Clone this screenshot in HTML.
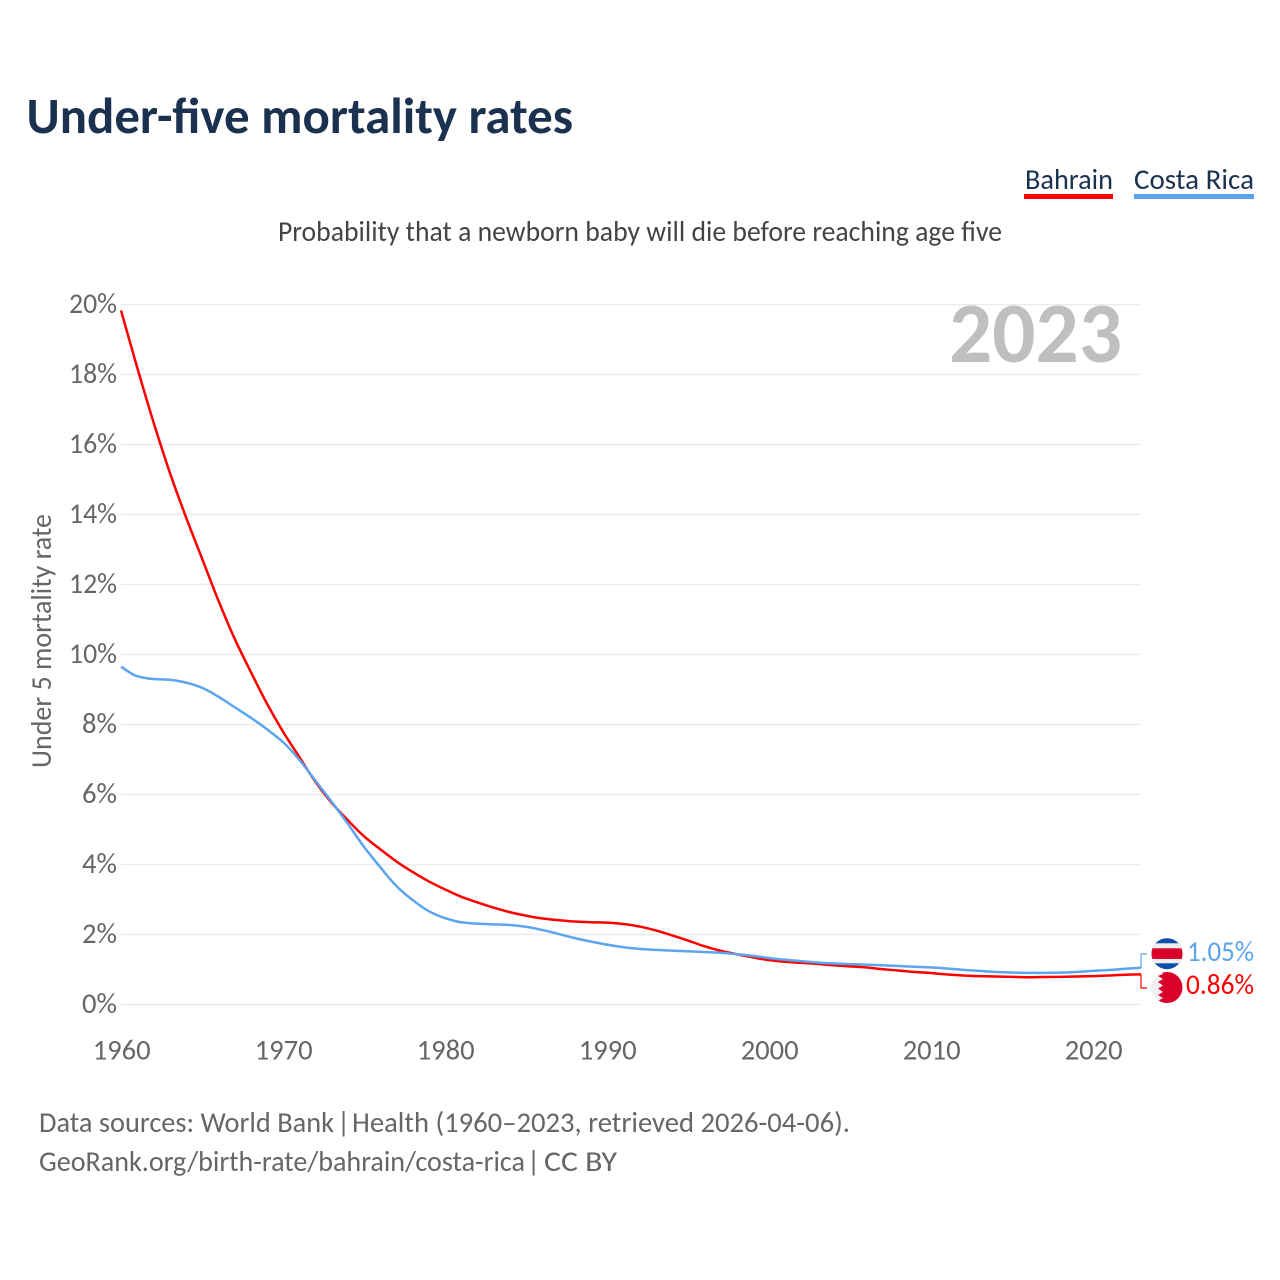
<!DOCTYPE html>
<html lang="en">
<head>
<meta charset="utf-8">
<title>Under-five mortality rates</title>
<style>
html,body{margin:0;padding:0;background:#fff;}
svg{display:block;}
text{font-family:"Carlito","Lato","Liberation Sans",sans-serif;}
</style>
</head>
<body>
<svg id="chart" width="1280" height="1280" viewBox="0 0 1280 1280" xmlns="http://www.w3.org/2000/svg">
  <rect x="0" y="0" width="1280" height="1280" fill="#fff"/>
  <text x="26.5" y="133" font-size="51" font-weight="700" fill="#1a3150" textLength="546.5" lengthAdjust="spacingAndGlyphs">Under-five mortality rates</text>
  <g>
    <text x="1025" y="189" font-size="28.6" fill="#1a3150" textLength="88" lengthAdjust="spacingAndGlyphs">Bahrain</text>
    <rect x="1024" y="194" width="89" height="5" fill="#ff0000"/>
  </g>
  <g>
    <text x="1134" y="189" font-size="28.6" fill="#1a3150" textLength="120" lengthAdjust="spacingAndGlyphs">Costa Rica</text>
    <rect x="1134" y="194" width="120" height="5" fill="#5ba4ee"/>
  </g>
  <text x="278" y="241" font-size="28.6" fill="#444" textLength="724" lengthAdjust="spacingAndGlyphs">Probability that a newborn baby will die before reaching age five</text>
  <text transform="translate(51,641) rotate(-90)" text-anchor="middle" font-size="28.6" fill="#666" textLength="254" lengthAdjust="spacingAndGlyphs">Under 5 mortality rate</text>
  <g id="grid"></g>
  <g id="yticks"></g>
  <g id="xticks"></g>
  <text id="year-label" x="949" y="362" font-size="86" font-weight="700" fill="#bfbfbf" textLength="173" lengthAdjust="spacingAndGlyphs">2023</text>
  <g id="series"></g>
  <defs>
    <clipPath id="clip-cr"><circle cx="1167" cy="953.7" r="15.5"/></clipPath>
    <clipPath id="clip-bh"><circle cx="1167" cy="987.5" r="15.5"/></clipPath>
  </defs>
  <g clip-path="url(#clip-cr)">
    <rect x="1150" y="938" width="34" height="32" fill="#0b4fa8"/>
    <rect x="1150" y="943.3" width="34" height="20" fill="#f0f0f0"/>
    <rect x="1150" y="948.3" width="34" height="10.7" fill="#d9002a"/>
  </g>
  <g clip-path="url(#clip-bh)">
    <rect x="1150" y="971" width="34" height="33" fill="#f0f0f0"/>
    <polygon fill="#d9002a" points="1161,971 1185,971 1185,1004 1161,1004 1157,1001.5 1163,998 1158,995 1163,992 1158,988.5 1163,985.5 1158,982 1163,979 1158,976 1163,974"/>
  </g>
  <text id="end-label-cr" x="1187" y="961" font-size="28.6" fill="#5ba4ee" textLength="67" lengthAdjust="spacingAndGlyphs"></text>
  <text id="end-label-bh" x="1186" y="994" font-size="28.6" fill="#ff0000" textLength="68" lengthAdjust="spacingAndGlyphs"></text>
  <g font-size="28.6" fill="#666">
    <text x="39" y="1132" textLength="295" lengthAdjust="spacingAndGlyphs">Data sources: World Bank</text>
    <text x="337" y="1132">|</text>
    <text x="352" y="1132" textLength="498" lengthAdjust="spacingAndGlyphs">Health (1960–2023, retrieved 2026-04-06).</text>
  </g>
  <g font-size="28.6" fill="#666">
    <text x="39" y="1171" textLength="486" lengthAdjust="spacingAndGlyphs">GeoRank.org/birth-rate/bahrain/costa-rica</text>
    <text x="527" y="1171">|</text>
    <text x="544" y="1171" textLength="73" lengthAdjust="spacingAndGlyphs">CC BY</text>
  </g>
</svg>
<script>
const startYear = 1960;
const endYear = 2023;
const yTickValues = [0, 2, 4, 6, 8, 10, 12, 14, 16, 18, 20];
const xTickValues = [1960, 1970, 1980, 1990, 2000, 2010, 2020];
const bahrainValues = [
  19.83, 18.2, 16.65, 15.22, 13.94, 12.75, 11.56, 10.47, 9.52, 8.61,
  7.8, 7.08, 6.37, 5.77, 5.27, 4.81, 4.44, 4.09, 3.79, 3.52,
  3.29, 3.08, 2.92, 2.77, 2.64, 2.54, 2.46, 2.41, 2.37, 2.35,
  2.34, 2.3, 2.23, 2.12, 1.98, 1.83, 1.67, 1.54, 1.44, 1.35,
  1.27, 1.22, 1.19, 1.16, 1.12, 1.09, 1.06, 1.01, 0.97, 0.93,
  0.9, 0.86, 0.83, 0.81, 0.8, 0.79, 0.78, 0.785, 0.79, 0.8,
  0.81, 0.83, 0.85, 0.86
];
const costaRicaValues = [
  9.65, 9.38, 9.3, 9.28, 9.2, 9.05, 8.8, 8.5, 8.2, 7.87,
  7.5, 7.0, 6.4, 5.8, 5.17, 4.51, 3.93, 3.39, 2.99, 2.67,
  2.47, 2.35, 2.31, 2.29, 2.27, 2.22, 2.13, 2.02, 1.9, 1.8,
  1.71, 1.64, 1.59, 1.56, 1.54, 1.52, 1.5, 1.48, 1.44, 1.39,
  1.33, 1.28, 1.24, 1.2, 1.17, 1.155, 1.14, 1.12, 1.1, 1.08,
  1.06, 1.03, 0.99, 0.96, 0.93, 0.915, 0.905, 0.905, 0.91, 0.93,
  0.96, 0.985, 1.02, 1.05
];

const NS = 'http://www.w3.org/2000/svg';
function xScale(year) { return 121 + (year - startYear) * (1141 - 121) / (endYear - startYear); }
function xLabelPos(year) { return 121.7 + (year - startYear) * 16.2; }
function yScale(v) { return 1004.5 - v * 35; }
function make(tag, attrs, parent) {
  const el = document.createElementNS(NS, tag);
  for (const k in attrs) el.setAttribute(k, attrs[k]);
  parent.appendChild(el);
  return el;
}

const grid = document.getElementById('grid');
const yticks = document.getElementById('yticks');
yTickValues.forEach(function (v) {
  const line = make('line', { x1: 121, x2: 1141, y1: yScale(v), y2: yScale(v), stroke: '#ececec', 'stroke-width': 1.5 }, grid);
  
  
  const label = make('text', { x: 117, y: yScale(v) + 8.5, 'text-anchor': 'end', 'font-size': 28.6, fill: '#666', textLength: v >= 10 ? 48 : 35, lengthAdjust: 'spacingAndGlyphs' }, yticks);
  
  
  label.textContent = v + '%';
});

const xticks = document.getElementById('xticks');
xTickValues.forEach(function (year) {
  const label = make('text', { x: xLabelPos(year), y: 1059.5, 'text-anchor': 'middle', 'font-size': 28.6, fill: '#666', textLength: 58, lengthAdjust: 'spacingAndGlyphs' }, xticks);
  
  
  label.textContent = year;
});

function linePath(values) {
  const xs = values.map(function (v, i) { return xScale(startYear + i); });
  const ys = values.map(yScale);
  const n = ys.length;
  const h = xs[1] - xs[0];
  const slopes = [];
  for (let i = 0; i < n - 1; i++) slopes.push((ys[i + 1] - ys[i]) / h);
  const tangents = [slopes[0]];
  for (let i = 1; i < n - 1; i++) {
    const a = slopes[i - 1];
    const b = slopes[i];
    tangents.push(a * b <= 0 ? 0 : 2 * a * b / (a + b));
  }
  tangents.push(slopes[n - 2]);
  let d = 'M' + xs[0].toFixed(2) + ' ' + ys[0].toFixed(2);
  for (let i = 0; i < n - 1; i++) {
    d += ' C' + (xs[i] + h / 3).toFixed(2) + ' ' + (ys[i] + tangents[i] * h / 3).toFixed(2) +
         ' ' + (xs[i + 1] - h / 3).toFixed(2) + ' ' + (ys[i + 1] - tangents[i + 1] * h / 3).toFixed(2) +
         ' ' + xs[i + 1].toFixed(2) + ' ' + ys[i + 1].toFixed(2);
  }
  return d;
}

const series = document.getElementById('series');
const xEnd = xScale(endYear);

const bahrainLine = make('path', { d: linePath(bahrainValues), fill: 'none', stroke: '#ff0000', 'stroke-width': 2.5, 'stroke-linejoin': 'round' }, series);



const costaRicaLine = make('path', { d: linePath(costaRicaValues), fill: 'none', stroke: '#5ba4ee', 'stroke-width': 2.5, 'stroke-linejoin': 'round' }, series);



const bhLast = bahrainValues[bahrainValues.length - 1];
const crLast = costaRicaValues[costaRicaValues.length - 1];

const bahrainConnector = make('path', { d: 'M' + xEnd + ' ' + yScale(bhLast) + ' V988 H1147', fill: 'none', stroke: '#ff0000', 'stroke-width': 1.2 }, series);



const costaRicaConnector = make('path', { d: 'M' + xEnd + ' ' + yScale(crLast) + ' V954 H1147', fill: 'none', stroke: '#5ba4ee', 'stroke-width': 1.2 }, series);



document.getElementById('end-label-cr').textContent = crLast.toFixed(2) + '%';
document.getElementById('end-label-bh').textContent = bhLast.toFixed(2) + '%';
</script>
</body>
</html>
